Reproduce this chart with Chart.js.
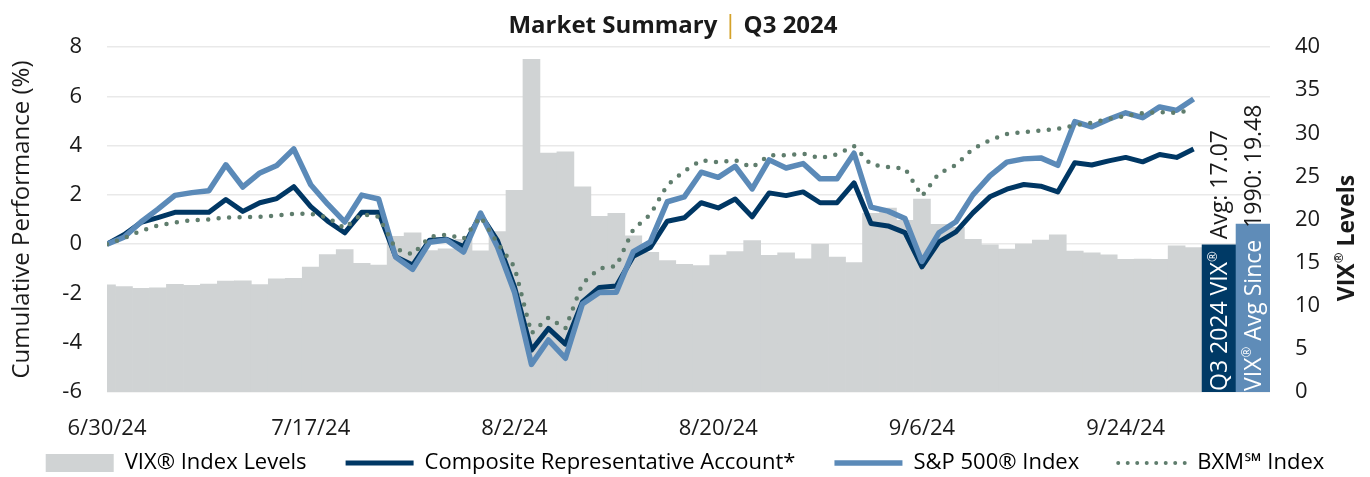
<!DOCTYPE html>
<html><head><meta charset="utf-8">
<script src="https://cdn.jsdelivr.net/npm/chart.js@4.4.1/dist/chart.umd.min.js"></script>
<style>html,body{margin:0;padding:0;background:#fff;}#wrap{width:1370px;height:477px;}</style>
</head><body><div id="wrap"><canvas id="c" width="1370" height="477"></canvas></div>
<script>
const dates = ['6/30/24','7/1/24','7/2/24','7/3/24','7/5/24','7/8/24','7/9/24','7/10/24','7/11/24','7/12/24','7/15/24','7/16/24','7/17/24','7/18/24','7/19/24','7/22/24','7/23/24','7/24/24','7/25/24','7/26/24','7/29/24','7/30/24','7/31/24','8/1/24','8/2/24','8/5/24','8/6/24','8/7/24','8/8/24','8/9/24','8/12/24','8/13/24','8/14/24','8/15/24','8/16/24','8/19/24','8/20/24','8/21/24','8/22/24','8/23/24','8/26/24','8/27/24','8/28/24','8/29/24','8/30/24','9/3/24','9/4/24','9/5/24','9/6/24','9/9/24','9/10/24','9/11/24','9/12/24','9/13/24','9/16/24','9/17/24','9/18/24','9/19/24','9/20/24','9/23/24','9/24/24','9/25/24','9/26/24','9/27/24','9/30/24'];
const tickLabels = ['6/30/24','7/17/24','8/2/24','8/20/24','9/6/24','9/24/24'];
const vixLevels = [12.44,12.22,12.03,12.09,12.48,12.37,12.51,12.85,12.89,12.46,13.12,13.19,14.48,15.93,16.52,14.91,14.72,18.04,18.46,16.39,16.60,17.69,16.36,18.59,23.39,38.57,27.71,27.85,23.79,20.37,20.71,18.12,16.19,15.23,14.80,14.65,15.88,16.27,17.55,15.86,16.15,15.43,17.11,15.65,15.00,20.72,21.32,19.90,22.38,19.45,19.08,17.69,17.07,16.56,17.14,17.61,18.23,16.33,16.15,15.89,15.39,15.41,15.37,16.96,16.73];
const composite = [0.00,0.38,0.88,1.08,1.29,1.29,1.29,1.81,1.33,1.68,1.85,2.33,1.52,0.93,0.46,1.29,1.29,-0.51,-0.85,0.16,0.20,-0.10,1.20,0.14,-1.73,-4.30,-3.42,-4.06,-2.34,-1.76,-1.70,-0.49,-0.14,0.93,1.07,1.68,1.47,1.83,1.11,2.08,1.97,2.12,1.68,1.68,2.49,0.84,0.74,0.47,-0.92,0.09,0.50,1.27,1.92,2.23,2.42,2.35,2.12,3.30,3.21,3.38,3.52,3.34,3.64,3.52,3.86];
const sp500 = [0.00,0.28,0.90,1.42,1.98,2.09,2.17,3.22,2.32,2.89,3.19,3.86,2.41,1.62,0.90,1.99,1.83,-0.52,-1.02,0.08,0.17,-0.32,1.26,-0.12,-1.95,-4.88,-3.89,-4.63,-2.43,-1.96,-1.95,-0.30,0.09,1.72,1.92,2.92,2.71,3.16,2.24,3.42,3.09,3.27,2.65,2.65,3.69,1.50,1.34,1.04,-0.70,0.46,0.91,2.00,2.77,3.33,3.46,3.50,3.20,4.97,4.76,5.07,5.33,5.13,5.57,5.43,5.89];
const bxm = [0.00,0.24,0.54,0.76,0.88,0.97,1.00,1.08,1.10,1.11,1.16,1.23,1.23,1.08,0.64,1.22,1.11,-0.19,-0.42,0.30,0.38,0.22,1.11,0.05,-0.92,-3.62,-2.98,-3.42,-1.60,-0.99,-0.89,0.60,1.20,2.40,2.96,3.41,3.32,3.41,3.11,3.61,3.61,3.67,3.49,3.64,3.98,3.23,3.13,3.07,1.95,2.87,3.21,3.87,4.22,4.47,4.55,4.61,4.68,4.82,4.93,5.09,5.20,5.32,5.36,5.32,5.48];
const avgValues = [17.07, 19.48];
const avgInside = ['Q3 2024 VIX', 'VIX'];
const avgAbove = ['Avg: 17.07', '1990: 19.48'];
const seriesNames = ['VIX® Index Levels','Composite Representative Account*','S&P 500® Index','BXM℠ Index'];

const FONT = '"Open Sans", "Noto Sans", sans-serif';
const C = { gray:'#D0D3D4', navy:'#003764', blue:'#5B8AB8', dots:'#5F7D6D', avg1:'#003A66', avg2:'#5F8CB8', text:'#1A1A1A', gold:'#D4A22A', grid:'#E9E9E9' };
const xMax = dates.length + 3.5;
const tickIdx = tickLabels.map(l => dates.indexOf(l));
const pts = arr => arr.map((v, i) => ({x: i, y: v}));
const LEGEND_CENTER_Y = 463;

function drawRuns(ctx, runs, x, y) {
  let cx = x;
  runs.forEach(r => {
    ctx.font = r.font; ctx.fillStyle = r.color;
    ctx.fillText(r.text, cx, y + (r.dy || 0));
    cx += ctx.measureText(r.text).width;
  });
  return cx;
}
function runsWidth(ctx, runs) {
  let w = 0; runs.forEach(r => { ctx.font = r.font; w += ctx.measureText(r.text).width; }); return w;
}

const overlay = {
  id: 'overlay',
  afterLayout(chart) {
    const lg = chart.legend;
    if (!lg) return;
    const lab = lg.options.labels;
    const target = LEGEND_CENTER_Y - lab.padding - lab.font.size / 2;
    const dy = target - lg.top;
    lg.top += dy; lg.bottom += dy;
  },
  afterDatasetsDraw(chart) {
    const ctx = chart.ctx, xs = chart.scales.x2, ys = chart.scales.yR;
    const reg = '23px ' + FONT, sup = '13px ' + FONT;
    const base = ys.getPixelForValue(0);
    avgValues.forEach((v, k) => {
      const cx = xs.getPixelForValue(dates.length + 0.5 + 2 * k);
      ctx.save();
      ctx.translate(cx, base - 1);
      ctx.rotate(-Math.PI / 2);
      ctx.textBaseline = 'middle'; ctx.textAlign = 'left';
      const inside = k === 0
        ? [{text: avgInside[0], font: reg, color: '#fff'}, {text: '®', font: sup, color: '#fff', dy: -7}]
        : [{text: avgInside[1], font: reg, color: '#fff'}, {text: '®', font: sup, color: '#fff', dy: -7}, {text: ' Avg Since', font: reg, color: '#fff'}];
      let px = drawRuns(ctx, inside, 0, 1);
      drawRuns(ctx, [{text: ' ' + avgAbove[k], font: reg, color: C.text}], px + 6, 1);
      ctx.restore();
    });
  },
  afterDraw(chart) {
    const ctx = chart.ctx;
    ctx.save();
    ctx.textBaseline = 'middle'; ctx.textAlign = 'left';
    const bold = 'bold 24px ' + FONT, reg = '25px ' + FONT;
    const title = [{text: 'Market Summary ', font: bold, color: C.text}, {text: '|', font: reg, color: C.gold}, {text: ' Q3 2024', font: bold, color: C.text}];
    const tw = runsWidth(ctx, title);
    drawRuns(ctx, title, 673 - tw / 2, 26);
    const rb = 'bold 23px ' + FONT, rs = 'bold 13px ' + FONT;
    const rt = [{text: 'VIX', font: rb, color: C.text}, {text: '®', font: rs, color: C.text, dy: -8}, {text: ' Levels', font: rb, color: C.text}];
    const rw = runsWidth(ctx, rt);
    ctx.translate(1347, 238);
    ctx.rotate(-Math.PI / 2);
    drawRuns(ctx, rt, -rw / 2, 0);
    ctx.restore();
  }
};

const tickFont = {family: FONT, size: 22};
new Chart(document.getElementById('c'), {
  type: 'bar',
  data: {
    datasets: [
      {type: 'bar', label: seriesNames[0], data: pts(vixLevels), xAxisID: 'x', yAxisID: 'yR', backgroundColor: C.gray, barPercentage: 1, categoryPercentage: 1, grouped: false, order: 10, clip: 0},
      {type: 'line', label: seriesNames[1], data: pts(composite), xAxisID: 'x', yAxisID: 'y', borderColor: C.navy, borderWidth: 5, pointRadius: 0, borderJoinStyle: 'round', order: 3},
      {type: 'line', label: seriesNames[2], data: pts(sp500), xAxisID: 'x', yAxisID: 'y', borderColor: C.blue, borderWidth: 5.5, pointRadius: 0, borderJoinStyle: 'round', order: 2},
      {type: 'line', label: seriesNames[3], data: pts(bxm), xAxisID: 'x', yAxisID: 'y', borderColor: C.dots, borderWidth: 4.5, borderDash: [0, 10.5], borderCapStyle: 'round', pointRadius: 0, order: 1},
      {type: 'bar', label: 'avg', data: avgValues.map((v, k) => ({x: dates.length + 0.5 + 2 * k, y: v})), xAxisID: 'x2', yAxisID: 'yR', backgroundColor: [C.avg1, C.avg2], barPercentage: 1, categoryPercentage: 1, grouped: false, order: 9}
    ]
  },
  options: {
    responsive: false, animation: false, devicePixelRatio: 1,
    layout: {padding: {top: 47, left: 0, right: 0, bottom: -30}},
    plugins: {
      title: {display: false}, tooltip: {enabled: false},
      legend: {
        position: 'bottom',
        labels: {
          usePointStyle: true, pointStyleWidth: 68, boxHeight: 18, padding: 39,
          font: {family: FONT, size: 22}, color: C.text,
          generateLabels: () => [
            {text: seriesNames[0], fillStyle: C.gray, strokeStyle: C.gray, lineWidth: 0, pointStyle: 'rect', datasetIndex: 0},
            {text: seriesNames[1], fillStyle: C.navy, strokeStyle: C.navy, lineWidth: 5, pointStyle: 'line', datasetIndex: 1},
            {text: seriesNames[2], fillStyle: C.blue, strokeStyle: C.blue, lineWidth: 5.5, pointStyle: 'line', datasetIndex: 2},
            {text: seriesNames[3], fillStyle: C.dots, strokeStyle: C.dots, lineWidth: 4, lineDash: [0, 9.5], lineCap: 'round', pointStyle: 'line', datasetIndex: 3}
          ]
        }
      }
    },
    scales: {
      x: {
        type: 'linear', min: 0, max: xMax, offset: false,
        grid: {display: false}, border: {display: false},
        afterBuildTicks: s => { s.ticks = tickIdx.map(v => ({value: v})); },
        ticks: {font: tickFont, color: C.text, padding: 16, maxRotation: 0, autoSkip: false,
          callback: v => { const k = tickIdx.indexOf(v); return k >= 0 ? tickLabels[k] : ''; }},
        afterFit: s => { s.height = 44; }
      },
      x2: {type: 'linear', min: 0, max: xMax, offset: false, display: false, afterBuildTicks: s => { s.ticks = []; }},
      y: {
        position: 'left', min: -6, max: 8,
        ticks: {stepSize: 2, padding: 25, font: tickFont, color: C.text},
        grid: {color: C.grid, lineWidth: 1.5, drawTicks: false}, border: {display: false},
        title: {display: true, text: 'Cumulative Performance (%)', font: {family: FONT, size: 24}, color: C.text, padding: {top: 8, bottom: 0}},
        afterFit: s => { s.width = 107; }
      },
      yR: {
        position: 'right', min: 0, max: 40,
        ticks: {stepSize: 5, padding: 25, font: tickFont, color: C.text},
        grid: {display: false, drawTicks: false}, border: {display: false},
        afterFit: s => { s.width = 100; }
      }
    }
  },
  plugins: [overlay]
});
</script></body></html>
